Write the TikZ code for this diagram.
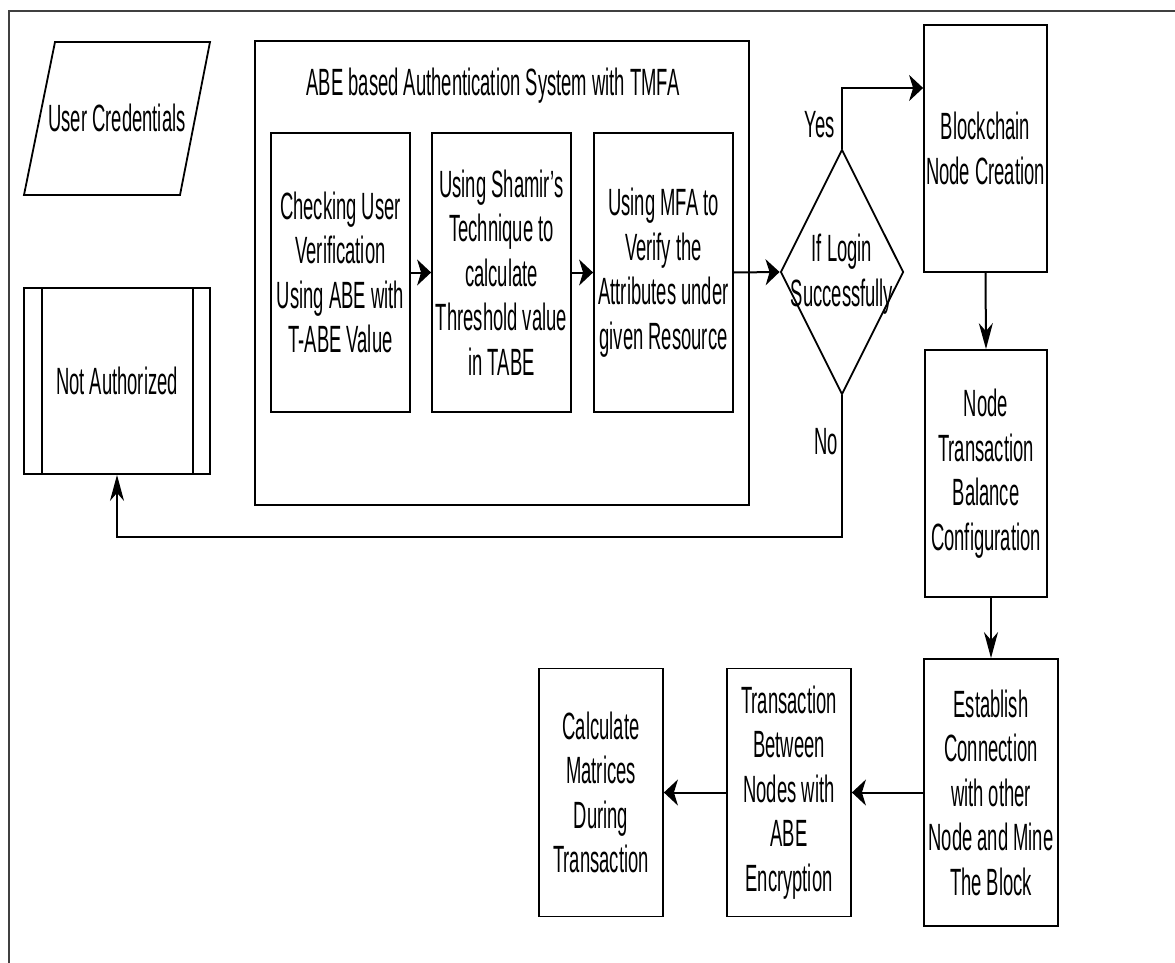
\documentclass[tikz,border=0pt]{standalone}
\usepackage{fontspec}
\setmainfont[FakeStretch=0.485]{Liberation Sans}
\usetikzlibrary{shapes.geometric,arrows.meta}
\begin{document}
\begin{tikzpicture}[x=1pt,y=-1pt,
  every node/.style={font=\fontsize{38}{44.5}\selectfont, align=center, inner sep=1pt},
  box/.style={draw, rectangle, line width=1.8pt, inner sep=1pt},
  harr/.style={line width=2pt, -{Stealth[length=14pt,width=26pt,inset=4pt]}},
  varr/.style={line width=2pt, -{Stealth[length=26pt,width=14pt,inset=8pt]}},
  lbl/.style={inner sep=0pt}]
\clip (0,0) rectangle (1175,963);
\useasboundingbox (0,0) rectangle (1175,963);
% outer frame (runs past the right and bottom edges)
\draw[line width=1.5pt, black!75] (9,11) rectangle (1200,1000);

% user credentials (parallelogram)
\draw[line width=1.8pt] (55,42) -- (210,42) -- (180,195) -- (24,195) -- cycle;
\node (cred) at (117,118) {User Credentials};

% not authorized (predefined process)
\node[box, minimum width=186pt, minimum height=186pt] (notauth) at (117,381) {Not Authorized};
\draw[line width=1.5pt] ([xshift=19pt]notauth.north west) -- ([xshift=19pt]notauth.south west);
\draw[line width=1.5pt] ([xshift=-18pt]notauth.north east) -- ([xshift=-18pt]notauth.south east);

% container
\node[draw, line width=1.6pt, minimum width=494pt, minimum height=464pt] (cont) at (502,273) {};
\node (title) at (493,86) {ABE based Authentication System with TMFA};

\node[box, minimum width=139pt, minimum height=279pt] (b1) at (340.5,272.5)
  {Checking User\\Verification\\Using ABE with\\T-ABE Value};
\node[box, minimum width=139pt, minimum height=279pt] (b2) at (501.5,272.5)
  {Using Shamir's\\Technique to\\calculate\\Threshold value\\in TABE};
\node[box, minimum width=139pt, minimum height=279pt] (b3) at (663.5,272.5)
  {Using MFA to\\Verify the\\Attributes under\\given Resource};

% decision
\node[draw, diamond, line width=1.8pt, minimum width=123pt, minimum height=245pt, inner sep=0pt] (dec) at (842,272) {};
\node (dectext) at (842,274) {If Login\\Successfully};

% right column
\node[box, minimum width=123pt, minimum height=247pt] (bc) at (985.5,148.5) {Blockchain\\Node Creation};
\node[box, minimum width=122pt, minimum height=247pt] (ntb) at (986,473.5) {Node\\Transaction\\Balance\\Configuration};
\node[box, minimum width=134pt, minimum height=267pt] (est) at (991,792.5) {Establish\\Connection\\with other\\Node and Mine\\The Block};
\node[box, minimum width=124pt, minimum height=248pt] (trn) at (789,792.5) {Transaction\\Between\\Nodes with\\ABE\\Encryption};
\node[box, minimum width=124pt, minimum height=248pt] (calc) at (601,792.5) {Calculate\\Matrices\\During\\Transaction};

% labels
\node[lbl] (yes) at (820,125) {Yes};
\node[lbl] (no) at (826,442) {No};

% connectors
\draw[harr] (b1.east) -- (b2.west);
\draw[harr] (b2.east) -- (b3.west);
\draw[harr] (b3.east) -- (dec.west);
\draw[harr] (dec.north) -- (dec.north |- 0,88) -- (bc.west |- 0,88);
\draw[varr] (dec.south) -- (dec.south |- 0,537) -| (notauth.south);
\draw[varr] (bc.south) -- (ntb.north);
\draw[varr] (est.north |- ntb.south) -- (est.north);
\draw[harr] (est.west) -- (trn.east);
\draw[harr] (trn.west) -- (calc.east);
\end{tikzpicture}
\end{document}
